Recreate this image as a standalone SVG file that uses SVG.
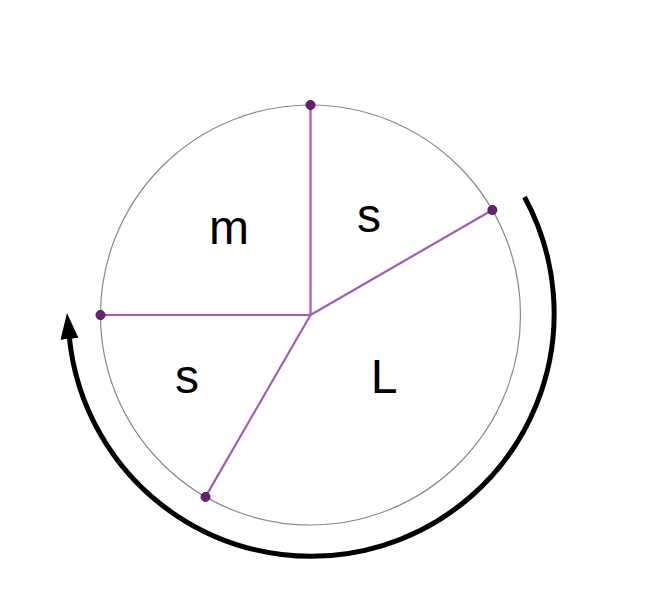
<svg xmlns="http://www.w3.org/2000/svg" width="646" height="600" viewBox="0 0 646 600">
  <style>
    .ring { fill: none; stroke: #888888; stroke-width: 1.2; }
    .spoke { stroke: #a05cb4; stroke-width: 2.2; fill: none; }
    .dot { fill: #6b1f73; stroke: #4a1050; stroke-width: 1; }
    .lbl { font-family: "Liberation Sans", Arial, sans-serif; font-size: 48px; fill: #000; text-anchor: middle; }
    .turn { fill: none; stroke: #000; stroke-width: 5; }
  </style>
  <defs>
    <marker id="head" markerUnits="userSpaceOnUse" markerWidth="30" markerHeight="24" refX="2" refY="10" orient="auto" viewBox="0 0 30 20">
      <polygon points="0,1 26,10 0,19" fill="#000"/>
    </marker>
  </defs>
  <rect width="646" height="600" fill="#fff"/>
  <g id="circle">
    <circle class="ring" cx="310.5" cy="315" r="210"/>
  </g>
  <g id="connectors">
    <line class="spoke" x1="310.5" y1="315" x2="310.5" y2="105"/>
    <line class="spoke" x1="310.5" y1="315" x2="492.4" y2="210"/>
    <line class="spoke" x1="310.5" y1="315" x2="100.5" y2="315"/>
    <line class="spoke" x1="310.5" y1="315" x2="205.5" y2="496.9"/>
    <path class="turn" d="M 524.5 197 A 243 243 0 1 1 69.3 337" marker-end="url(#head)"/>
  </g>
  <g id="points">
    <circle class="dot" cx="310.5" cy="105" r="4.5"/>
    <circle class="dot" cx="492.4" cy="210" r="4.5"/>
    <circle class="dot" cx="100.5" cy="315" r="4.5"/>
    <circle class="dot" cx="205.5" cy="496.9" r="4.5"/>
  </g>
  <g id="label-m"><text class="lbl" x="229" y="244">m</text></g>
  <g id="label-s-top"><text class="lbl" x="369" y="232">s</text></g>
  <g id="label-s-left"><text class="lbl" x="187" y="393">s</text></g>
  <g id="label-L"><text class="lbl" x="384" y="393">L</text></g>
</svg>
